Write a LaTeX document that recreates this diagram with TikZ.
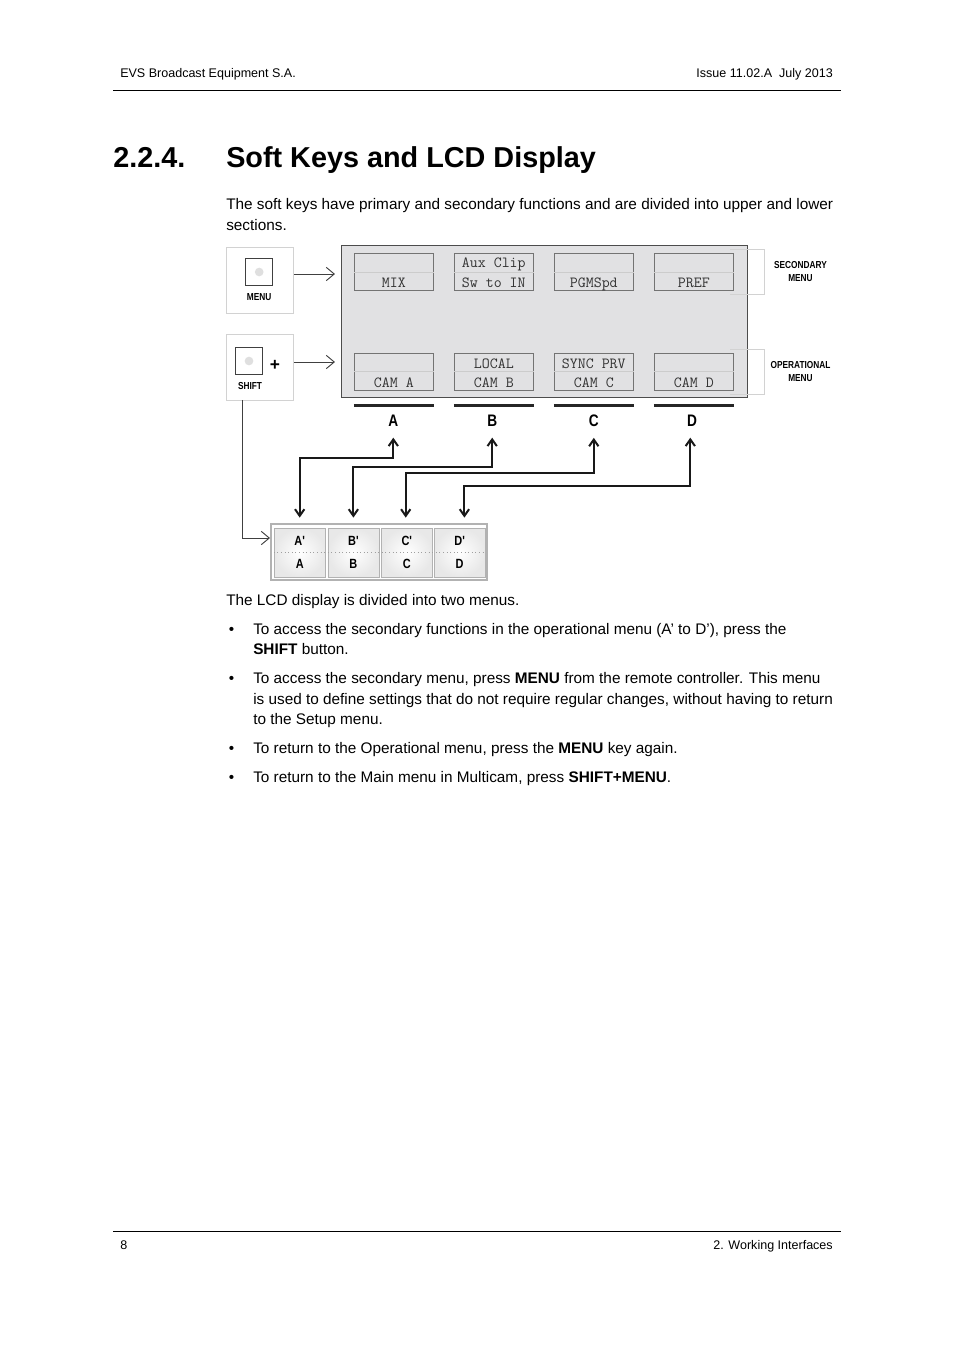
\documentclass[tikz,border=0pt]{standalone}
\usepackage{fontspec}
\setmainfont{Liberation Sans}
\newfontfamily\narrowsf{Liberation Sans}[FakeStretch=0.82]
\usetikzlibrary{arrows.meta,positioning,calc}
\definecolor{lcdfill}{HTML}{E1E1E3}
\definecolor{keyink}{HTML}{333333}
\tikzset{
  hdr/.style={inner sep=0pt,font=\fontsize{9.4}{11}\selectfont},
  ttl/.style={anchor=base west,inner sep=0pt,font=\fontsize{21.6}{26}\selectfont\bfseries},
  txt/.style={anchor=base west,inner sep=0pt,font=\fontsize{11.5}{14}\selectfont},
  rule/.style={line width=0.6pt},
  optbox/.style={draw=gray!35,fill=white,minimum width=50.5pt,minimum height=49.5pt,inner sep=0pt},
  btnsq/.style={draw=black!75,line width=0.9pt,minimum size=20.5pt,inner sep=0pt},
  btndot/.style={circle,fill=gray!25,minimum size=6.5pt,inner sep=0pt},
  tinylbl/.style={font=\fontsize{7.6}{9.4}\narrowsf\bfseries,align=center,inner sep=0pt},
  lcdpanel/.style={draw=black!70,line width=1.1pt,fill=lcdfill,minimum width=304.5pt,minimum height=114pt,inner sep=0pt},
  softkey/.style={draw=black!55,line width=0.6pt,fill=lcdfill,minimum width=59.25pt,minimum height=28pt,inner sep=0pt},
  keymid/.style={gray!40,line width=0.4pt},
  keytxt/.style={anchor=base,inner sep=0pt,text=keyink,font=\fontsize{11.6}{12}\ttfamily},
  keybar/.style={line width=2.1pt,black!85},
  keylbl/.style={inner sep=0pt,font=\fontsize{12.5}{12.5}\narrowsf\bfseries},
  brk/.style={gray!35,line width=0.5pt},
  thinarr/.style={-{Straight Barb[length=6pt,width=10pt]},line width=0.7pt,black!75},
  dblarr/.style={{Straight Barb[length=5pt,width=7pt]}-{Straight Barb[length=5pt,width=7pt]},line width=1.5pt,black!90},
  bankbox/.style={draw=gray!60,line width=1.5pt,fill=white,minimum width=162pt,minimum height=42pt,inner sep=0pt},
  bankbtn/.style={draw=gray!60,line width=0.6pt,minimum width=38.25pt,minimum height=36.75pt,inner sep=0pt,inner color=white,outer color=gray!18},
  banklbl/.style={inner sep=0pt,font=\fontsize{10}{10}\narrowsf\bfseries}
}
\begin{document}
\begin{tikzpicture}[x=0.75pt,y=-0.75pt]
  \fill[white] (0,0) rectangle (954,1350);
  \useasboundingbox (0,0) rectangle (954,1350);

  % Header and footer
  \node[hdr,anchor=base west] (hdrl) at (120,77) {EVS Broadcast Equipment S.A.};
  \node[hdr,anchor=base east] (hdrr) at (833,77) {Issue 11.02.A\ \ July 2013};
  \draw[rule] (113,90) -- (841,90);
  \draw[rule] (113,1231) -- (841,1231);
  \node[hdr,anchor=base west] (pgno) at (120,1249) {8};
  \node[hdr,anchor=base east] (chap) at (833,1249) {2. Working Interfaces};

  % Section title
  \node[ttl] (secno) at (113,167) {2.2.4.};
  \node[ttl] (sectitle) at (226,167) {Soft Keys and LCD Display};
  \node[txt] (introa) at (226,209) {The soft keys have primary and secondary functions and are divided into upper and lower};
  \node[txt] (introb) at (226,230) {sections.};

  % MENU and SHIFT buttons
  \node[optbox] (menubox) at (259.8,280) {};
  \node[btnsq] (menubtn) at (259.2,272) {};
  \node[btndot] (menudot) at (menubtn) {};
  \node[tinylbl] (menulbl) at (259.2,297) {MENU};
  \node[optbox] (shiftbox) at (259.8,367) {};
  \node[btnsq] (shiftbtn) at (249,361) {};
  \node[btndot] (shiftdot) at (shiftbtn) {};
  \node[inner sep=0pt,font=\fontsize{13}{13}\selectfont\bfseries] (plus) at (275,365) {+};
  \node[tinylbl] (shiftlbl) at (250,386.5) {SHIFT};

  % LCD panel and soft keys
  \node[lcdpanel] (lcd) at (544.7,321.5) {};
  \foreach \i/\x/\ta/\tb/\oa/\ob in {1/393.8/{}/MIX/{}/CAM A, 2/493.8/Aux Clip/Sw to IN/LOCAL/CAM B,
      3/593.8/{}/PGMSpd/SYNC PRV/CAM C, 4/693.8/{}/PREF/{}/CAM D}{
    \node[softkey] (sk\i) at (\x,272) {};
    \node[softkey] (ok\i) at (\x,371.7) {};
    \draw[keymid] (sk\i.west) -- (sk\i.east);
    \draw[keymid] (ok\i.west) -- (ok\i.east);
    \node[keytxt] (ska\i) at ($(sk\i.center)+(0,-4.3)$) {\ta};
    \node[keytxt] (skb\i) at ($(sk\i.center)+(0,15)$) {\tb};
    \node[keytxt] (oka\i) at ($(ok\i.center)+(0,-3.5)$) {\oa};
    \node[keytxt] (okb\i) at ($(ok\i.center)+(0,15.5)$) {\ob};
    \draw[keybar] ($(ok\i.south west)+(0,15)$) -- ($(ok\i.south east)+(0,15)$);
  }
  \node[keylbl] (lblA) at (393.3,421) {A};
  \node[keylbl] (lblB) at (492.2,421) {B};
  \node[keylbl] (lblC) at (593.8,421) {C};
  \node[keylbl] (lblD) at (692,421) {D};

  % Menu brackets
  \draw[brk] (730,249.3) -- (764.3,249.3) -- (764.3,294.3) -- (730,294.3);
  \draw[brk] (730,349.3) -- (764.3,349.3) -- (764.3,394.3) -- (730,394.3);
  \node[tinylbl] (secmenu) at (800.5,271.5) {SECONDARY\\MENU};
  \node[tinylbl] (opmenu) at (800.5,371.5) {OPERATIONAL\\MENU};

  % Arrows into the panel
  \draw[thinarr,shorten <=0.5pt,shorten >=4.5pt] ([yshift=4.5pt]menubox.east) -- ([yshift=4.5pt]menubox.east -| lcd.west);
  \draw[thinarr,shorten <=0.5pt,shorten >=4.5pt] ([yshift=3.75pt]shiftbox.east) -- ([yshift=3.75pt]shiftbox.east -| lcd.west);

  % Shift bank
  \node[bankbox] (bank) at (379,551.5) {};
  \node[bankbtn] (btnA) at (299.7,552.5) {};
  \node[bankbtn] (btnB) at (353.4,552.5) {};
  \node[bankbtn] (btnC) at (406.8,552.5) {};
  \node[bankbtn] (btnD) at (459.6,552.5) {};
  \draw[dotted,gray!75,line width=0.7pt] (btnA.west) -- (btnD.east);
  \foreach \k in {A,B,C,D}{
    \node[banklbl] (up\k) at ($(btn\k.center)+(0,-12)$) {\k'};
    \node[banklbl] (lo\k) at ($(btn\k.center)+(0,11.5)$) {\k};
  }
  \coordinate (bankin) at (270,538);
  \draw[thinarr] ([xshift=-13pt]shiftbox.south) |- (bankin);

  % Soft key to bank connections
  \coordinate (jA) at (393.3,457.5);
  \coordinate (jB) at (492.2,466.8);
  \coordinate (jC) at (593.8,473);
  \coordinate (jD) at (690.3,485.8);
  \draw[dblarr,shorten <=7.5pt,shorten >=8pt] (btnA.north) |- (jA) -- (jA |- lblA.south);
  \draw[dblarr,shorten <=7.5pt,shorten >=8pt] (btnB.north) |- (jB) -- (jB |- lblB.south);
  \draw[dblarr,shorten <=7.5pt,shorten >=8pt] ([xshift=-0.8pt]btnC.north) |- (jC) -- (jC |- lblC.south);
  \draw[dblarr,shorten <=7.5pt,shorten >=8pt] ([xshift=3.6pt]btnD.north) |- (jD) -- (jD |- lblD.south);

  % Description
  \node[txt] (lcdtxt) at (226,605) {The LCD display is divided into two menus.};
  \node[txt] (bul1) at (228.5,634) {•};
  \node[txt] (bul1a) at (253,634) {To access the secondary functions in the operational menu (A’ to D’), press the};
  \node[txt] (bul1b) at (253,654) {\textbf{SHIFT} button.};
  \node[txt] (bul2) at (228.5,683) {•};
  \node[txt] (bul2a) at (253,683) {To access the secondary menu, press \textbf{MENU} from the remote controller. This menu};
  \node[txt] (bul2b) at (253,704) {is used to define settings that do not require regular changes, without having to return};
  \node[txt] (bul2c) at (253,724) {to the Setup menu.};
  \node[txt] (bul3) at (228.5,753) {•};
  \node[txt] (bul3a) at (253,753) {To return to the Operational menu, press the \textbf{MENU} key again.};
  \node[txt] (bul4) at (228.5,782) {•};
  \node[txt] (bul4a) at (253,782) {To return to the Main menu in Multicam, press \textbf{SHIFT+MENU}.};
\end{tikzpicture}
\end{document}
